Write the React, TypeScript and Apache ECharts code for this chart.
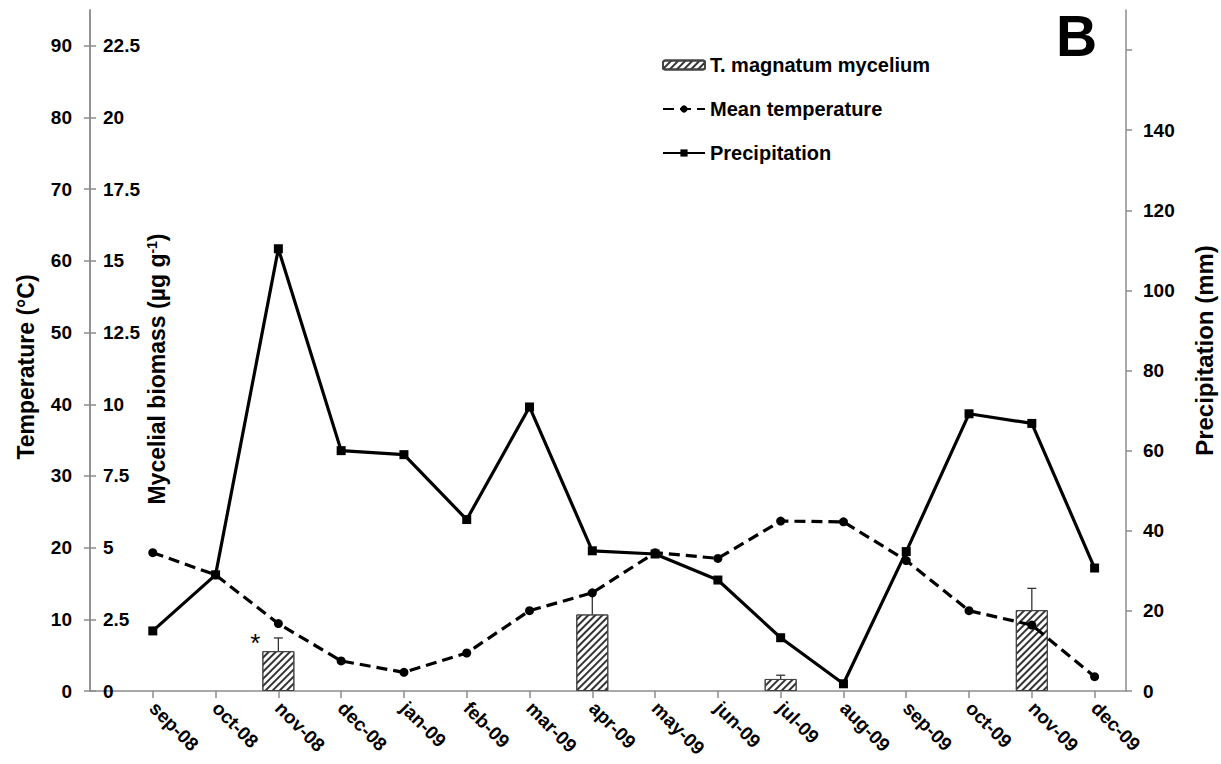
import React, { useEffect, useRef } from "react";
import * as echarts from "echarts";

const categories = ["sep-08", "oct-08", "nov-08", "dec-08", "jan-09", "feb-09", "mar-09", "apr-09", "may-09", "jun-09", "jul-09", "aug-09", "sep-09", "oct-09", "nov-09", "dec-09"];
const temperature = [19.3, 16.2, 9.4, 4.2, 2.6, 5.3, 11.2, 13.7, 19.3, 18.5, 23.7, 23.6, 18.2, 11.2, 9.2, 2.0];
const precipitation = [15, 29, 110.4, 60, 59, 42.8, 70.9, 35, 34.2, 27.7, 13.3, 1.8, 34.8, 69.2, 66.8, 30.7];
const biomass = [null, null, 1.39, null, null, null, null, 2.67, null, null, 0.42, null, null, null, 2.82, null];
const biomassErr = [null, null, 0.46, null, null, null, null, 0.78, null, null, 0.13, null, null, null, 0.76, null];
const significance = ["", "", "*", "", "", "", "", "", "", "", "", "", "", "", "", ""];

const tempTicks = [0, 10, 20, 30, 40, 50, 60, 70, 80, 90];
const biomassTicks = [0, 2.5, 5, 7.5, 10, 12.5, 15, 17.5, 20, 22.5];
const precipTicks = [0, 20, 40, 60, 80, 100, 120, 140, 160];
const precipLabels = [0, 20, 40, 60, 80, 100, 120, 140];
const monthIdx = categories.map((_, i) => i);

const FONT = "'Liberation Sans', Arial, sans-serif";
const AXIS_GRAY = "#8c8c8c";

export default function App() {
  const ref = useRef<HTMLDivElement>(null);
  useEffect(() => {
    if (!ref.current) return;
    const chart = echarts.init(ref.current, null, { renderer: "svg" });
    const axisLabelStyle = { color: "#000", fontWeight: "bold", fontSize: 19, fontFamily: FONT };
    const nameStyle = { color: "#000", fontWeight: "bold", fontSize: 23, fontFamily: FONT };
    const axisLine = { show: true, onZero: false, lineStyle: { color: AXIS_GRAY, width: 1.5 } };
    const hatch = {
      symbol: "rect",
      symbolSize: 1,
      dashArrayX: [1, 0],
      dashArrayY: [1.3, 2.8],
      rotation: -Math.PI / 4,
      color: "#333",
    };
    const option: any = {
      animation: false,
      backgroundColor: "#fff",
      textStyle: { fontFamily: FONT },
      grid: { left: 90, right: 95, top: 10, bottom: 73, outerBoundsMode: "none" },
      legend: {
        left: 662,
        top: 54,
        padding: 0,
        orient: "vertical",
        itemWidth: 42,
        itemHeight: 9,
        itemGap: 22,
        textStyle: { color: "#000", fontWeight: "bold", fontSize: 20, lineHeight: 22, fontFamily: FONT },
        data: ["T. magnatum mycelium", "Mean temperature", "Precipitation"],
      },
      xAxis: {
        type: "value",
        min: -1,
        max: 15.5,
        interval: 1,
        splitLine: { show: false },
        axisLine,
        axisTick: { show: true, length: 7, customValues: monthIdx, lineStyle: { color: AXIS_GRAY, width: 1.5 } },
        axisLabel: {
          ...axisLabelStyle,
          rotate: -45,
          margin: 14,
          customValues: monthIdx,
          formatter: (v: number) => categories[Math.round(v)] ?? "",
        },
      },
      yAxis: [
        {
          type: "value",
          position: "left",
          min: 0,
          max: 95,
          interval: 10,
          splitLine: { show: false },
          axisLine,
          axisTick: { show: true, length: 6, customValues: tempTicks, lineStyle: { color: AXIS_GRAY, width: 1.5 } },
          axisLabel: { ...axisLabelStyle, margin: 18, customValues: tempTicks },
        },
        {
          type: "value",
          position: "left",
          min: 0,
          max: 23.75,
          interval: 2.5,
          splitLine: { show: false },
          axisLine,
          axisTick: { show: true, inside: true, length: 6, customValues: biomassTicks, lineStyle: { color: AXIS_GRAY, width: 1.5 } },
          axisLabel: { ...axisLabelStyle, inside: true, margin: 13, customValues: biomassTicks },
        },
        {
          type: "value",
          position: "right",
          min: 0,
          max: 170,
          interval: 20,
          splitLine: { show: false },
          axisLine,
          axisTick: { show: true, length: 6, customValues: precipTicks, lineStyle: { color: AXIS_GRAY, width: 1.5 } },
          axisLabel: { ...axisLabelStyle, margin: 17, customValues: precipLabels },
          name: "Precipitation (mm)",
          nameLocation: "middle",
          nameGap: 66,
          nameRotate: 90,
          nameTextStyle: { ...nameStyle, fontSize: 24 },
        },
      ],
      graphic: [
        {
          type: "text",
          x: 26,
          y: 367,
          rotation: Math.PI / 2,
          style: { text: "Temperature (°C)", ...nameStyle, fill: "#000", align: "center", verticalAlign: "middle" },
        },
        {
          type: "text",
          x: 157,
          y: 369,
          rotation: Math.PI / 2,
          style: {
            text: "{n|Mycelial biomass (µg g}{s|-1}{n|)}",
            align: "center",
            verticalAlign: "middle",
            rich: {
              n: { fontSize: 23, fontWeight: "bold", fontFamily: FONT, fill: "#000" },
              s: { fontSize: 14, fontWeight: "bold", fontFamily: FONT, fill: "#000", verticalAlign: "top", padding: [0, 0, 10, 0] },
            },
          },
        },
        {
          type: "text",
          x: 1056,
          y: 36,
          style: { text: "B", fontSize: 57, fontWeight: "bold", fontFamily: FONT, fill: "#000", align: "left", verticalAlign: "middle" },
        },
      ],
      series: [
        {
          name: "T. magnatum mycelium",
          type: "bar",
          yAxisIndex: 1,
          barWidth: 32,
          data: monthIdx.map((i) => [i, biomass[i]]),
          itemStyle: { color: "#fff", borderColor: "#444", borderWidth: 1, decal: hatch },
        },
        {
          name: "err",
          type: "custom",
          yAxisIndex: 1,
          data: monthIdx.filter((i) => biomass[i] != null).map((i) => [i, biomass[i], (biomass[i] as number) + (biomassErr[i] as number)]),
          renderItem: (params: any, api: any) => {
            const x = api.value(0);
            const p0 = api.coord([x, api.value(1)]);
            const p1 = api.coord([x, api.value(2)]);
            const mark = significance[Math.round(x)];
            const children: any[] = [
              { type: "line", shape: { x1: p0[0], y1: p0[1], x2: p1[0], y2: p1[1] }, style: { stroke: "#333", lineWidth: 1.3 } },
              { type: "line", shape: { x1: p1[0] - 4.5, y1: p1[1], x2: p1[0] + 4.5, y2: p1[1] }, style: { stroke: "#333", lineWidth: 1.3 } },
            ];
            if (mark) {
              children.push({
                type: "text",
                x: p0[0] - 23,
                y: p0[1] - 8,
                style: { text: mark, fontSize: 26, fontFamily: FONT, fill: "#000", align: "center", verticalAlign: "middle" },
              });
            }
            return { type: "group", children };
          },
          z: 3,
        },
        {
          name: "Mean temperature",
          type: "line",
          yAxisIndex: 0,
          data: monthIdx.map((i) => [i, temperature[i]]),
          symbol: "circle",
          symbolSize: 9,
          lineStyle: { color: "#000", width: 3.2, type: [11, 6] },
          itemStyle: { color: "#000" },
          z: 4,
        },
        {
          name: "Precipitation",
          type: "line",
          yAxisIndex: 2,
          data: monthIdx.map((i) => [i, precipitation[i]]),
          symbol: "rect",
          symbolSize: 9,
          lineStyle: { color: "#000", width: 3.2 },
          itemStyle: { color: "#000" },
          z: 5,
        },
      ],
    };
    chart.setOption(option);
    return () => chart.dispose();
  }, []);
  return <div ref={ref} style={{ position: "absolute", left: 0, top: 0, width: 1221, height: 764 }} />;
}
